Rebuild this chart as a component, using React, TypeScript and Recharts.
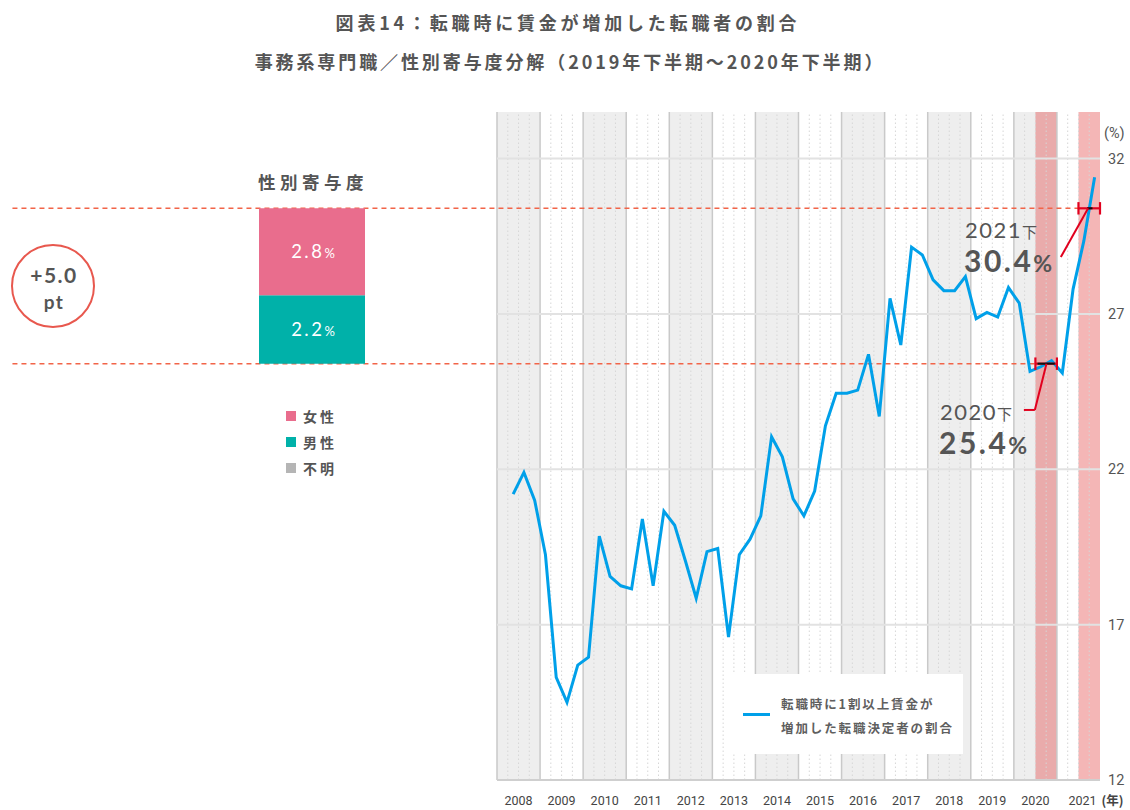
import React from 'react'
import {
  ComposedChart,
  Line,
  XAxis,
  YAxis,
  ReferenceArea,
  ReferenceLine,
  Legend,
  BarChart,
  Bar,
  LabelList
} from 'recharts'

// --- data ---
const years = [2008, 2009, 2010, 2011, 2012, 2013, 2014, 2015, 2016, 2017, 2018, 2019, 2020, 2021]

// quarterly series, 2008Q2 .. 2021Q4
const quarters = years.flatMap(y => ['Q1', 'Q2', 'Q3', 'Q4'].map(q => `${y}${q}`)).slice(1)
const ratio = [
  21.2, 21.9, 21.0, 19.25,
  15.3, 14.5, 15.7, 15.95,
  19.85, 18.55, 18.25, 18.15,
  20.4, 18.25, 20.65, 20.2,
  19.05, 17.85, 19.35, 19.45,
  16.6, 19.25, 19.75, 20.5,
  23.05, 22.4, 21.05, 20.5,
  21.3, 23.4, 24.45, 24.45,
  24.55, 25.7, 23.7, 27.5,
  26.0, 29.15, 28.9, 28.1,
  27.75, 27.75, 28.2, 26.85,
  27.05, 26.9, 27.85, 27.35,
  25.15, 25.3, 25.5, 25.1,
  27.8, 29.35, 31.4
]
const yTicks = [12, 17, 22, 27, 32]

// half-year averages that are compared
const halfLabels = ['2020下', '2021下']
const halfValues = [25.4, 30.4]

// gender contribution (pt)
const genderNames = ['女性', '男性', '不明']
const genderValues = [2.8, 2.2, 0]
const genderColors = ['#e96d8d', '#00b1a9', '#b5b5b5']

const jp = '"Noto Sans CJK JP", "Noto Sans", sans-serif'
const num = 'Lato, "Noto Sans", sans-serif'
const lineBlue = '#00a0e9'
const markRed = '#e1001e'
const dashRed = '#f26448'

const quarterIndex = (label: string) =>
  (Number(label.slice(0, 4)) - years[0]) * 4 + Number(label.slice(5)) - 1

const lineData = quarters.map((q, i) => ({ x: quarterIndex(q) + 0.5, q, value: ratio[i] }))

const barData = [
  { name: '寄与度', base: halfValues[0], male: genderValues[1], female: genderValues[0] }
]

// half-year x ranges in quarter units (下 = 2nd half)
const halfStart = halfLabels.map(h => (Number(h.slice(0, 4)) - years[0]) * 4 + 2)

function YearTick(props: any) {
  const { x, y, payload } = props
  const idx = Math.round((payload.value - 2) / 4)
  const last = idx === years.length - 1
  return (
    <g>
      <text x={last ? x + 4 : x} y={y + 17} textAnchor="middle" fill="#444" fontSize={12.5} fontFamily="Roboto, sans-serif">
        {years[idx]}
      </text>
      {last && (
        <text x={x + 23} y={y + 17} fill="#444" fontSize={12.5} fontFamily={jp} fontWeight={700}>
          (年)
        </text>
      )}
    </g>
  )
}

function LineLegend() {
  return (
    <div style={{ width: 236, height: 80, background: '#fff', position: 'relative', fontFamily: jp }}>
      <div style={{ position: 'absolute', left: 16, top: 39, width: 27, height: 3, background: lineBlue }} />
      <div style={{ position: 'absolute', left: 54, top: 18, fontSize: 12.5, fontWeight: 700, color: '#5f5f5f', letterSpacing: 1.9, lineHeight: '24px', whiteSpace: 'nowrap' }}>
        転職時に1割以上賃金が<br />増加した転職決定者の割合
      </div>
    </div>
  )
}

function GenderLegend() {
  return (
    <div style={{ fontFamily: jp, whiteSpace: 'nowrap' }}>
      {genderNames.map((n, i) => (
        <div key={n} style={{ position: 'relative', height: 26, lineHeight: '26px' }}>
          <span style={{ position: 'absolute', left: 0, top: 8, width: 10, height: 10, background: genderColors[i] }} />
          <span style={{ position: 'absolute', left: 17, top: 0, fontSize: 14, fontWeight: 700, color: '#555', letterSpacing: 3 }}>{n}</span>
        </div>
      ))}
    </div>
  )
}

function PctLabel(props: any) {
  const { x, y, width, height, value } = props
  return (
    <text x={x + width / 2 + 1} y={y + height / 2 + 6.5} textAnchor="middle" fill="#fff" fontFamily={num} fontSize={18.5} letterSpacing={2.5}>
      {value.toFixed(1)}
      <tspan fontSize={13} letterSpacing={0}>%</tspan>
    </text>
  )
}

function App() {
  const yearLines = years.map((_, i) => i * 4)
  const quarterLines = years.flatMap((_, i) => [i * 4 + 1, i * 4 + 2, i * 4 + 3])
  const yearCenters = years.map((_, i) => i * 4 + 2)

  return (
    <div style={{ position: 'absolute', left: 0, top: 0, width: 1130, height: 810, background: '#fff', overflow: 'hidden' }}>
      {/* main line chart */}
      <div style={{ position: 'absolute', left: 0, top: 0 }}>
        <ComposedChart width={1130} height={810} data={lineData} margin={{ top: 112, right: 0, bottom: 0, left: 497 }}>
          <XAxis
            type="number"
            dataKey="x"
            domain={[0, 56]}
            ticks={yearCenters}
            tick={<YearTick />}
            tickLine={false}
            axisLine={{ stroke: '#cfcfcf', strokeWidth: 2 }}
            height={30}
            interval={0}
          />
          <YAxis
            orientation="right"
            domain={[12, 33.5]}
            ticks={yTicks}
            width={30}
            tickLine={false}
            axisLine={false}
            tick={{ fill: '#555', fontSize: 14.5, fontFamily: 'Roboto, sans-serif' }}
            allowDataOverflow
          />
          {years.map((y, i) =>
            i % 2 === 0 ? (
              <ReferenceArea key={'b' + y} x1={i * 4} x2={i * 4 + 4} y1={12} y2={33.5} fill="#eeeeee" fillOpacity={1} stroke="none" />
            ) : null
          )}
          {halfStart.map(s => (
            <ReferenceArea key={'h' + s} x1={s} x2={s + 2} y1={12} y2={33.5} fill="#e03434" fillOpacity={0.36} stroke="none" />
          ))}
          {quarterLines.map(q => (
            <ReferenceLine key={'q' + q} x={q} stroke="#d6d6d6" strokeDasharray="1.5 2.5" strokeWidth={1} />
          ))}
          {yearLines.map(x => (
            <ReferenceLine key={'y' + x} x={x} stroke="#c9c9c9" strokeWidth={1.5} />
          ))}
          {yTicks.slice(1).map(t => (
            <ReferenceLine key={'g' + t} y={t} stroke="#e2e2e2" strokeWidth={2} />
          ))}
          {halfValues.map((v, i) => (
            <ReferenceLine
              key={'d' + i}
              segment={[{ x: -45, y: v }, { x: halfStart[i], y: v }]}
              stroke={dashRed}
              strokeDasharray="5 4"
              strokeWidth={1.5}
              ifOverflow="visible"
            />
          ))}
          <Line
            type="linear"
            dataKey="value"
            stroke={lineBlue}
            strokeWidth={3}
            dot={false}
            isAnimationActive={false}
          />
          {halfValues.map((v, i) => (
            <ReferenceLine key={'m' + i} segment={[{ x: halfStart[i], y: v }, { x: halfStart[i] + 2, y: v }]} stroke={markRed} strokeWidth={2.2} />
          ))}
          {halfValues.map((v, i) => (
            <ReferenceLine key={'cl' + i} segment={[{ x: halfStart[i], y: v - 0.2 }, { x: halfStart[i], y: v + 0.2 }]} stroke={markRed} strokeWidth={2.2} />
          ))}
          {halfValues.map((v, i) => (
            <ReferenceLine key={'cr' + i} segment={[{ x: halfStart[i] + 2, y: v - 0.2 }, { x: halfStart[i] + 2, y: v + 0.2 }]} stroke={markRed} strokeWidth={2.2} />
          ))}
          <ReferenceLine segment={[{ x: halfStart[0] + 0.2, y: halfValues[0] }, { x: halfStart[0] + 1.8, y: halfValues[0] }]} stroke="#111" strokeWidth={2} />
          <ReferenceLine segment={[{ x: halfStart[1] + 0.8, y: halfValues[1] }, { x: halfStart[1] + 1.3, y: halfValues[1] }]} stroke="#111" strokeWidth={2} />
          {/* leader lines to the labels */}
          <ReferenceLine segment={[{ x: 52.36, y: 28.83 }, { x: 54.9, y: halfValues[1] }]} stroke={markRed} strokeWidth={2} />
          <ReferenceLine segment={[{ x: 48.93, y: 23.91 }, { x: 49.95, y: 23.91 }]} stroke={markRed} strokeWidth={2} />
          <ReferenceLine segment={[{ x: 49.95, y: 23.91 }, { x: 51.03, y: halfValues[0] }]} stroke={markRed} strokeWidth={2} />
          <Legend
            layout="vertical"
            align="center"
            verticalAlign="middle"
            content={<LineLegend />}
            wrapperStyle={{ left: 727, top: 674, width: 236, height: 80 }}
          />
        </ComposedChart>
      </div>

      {/* stacked contribution bar */}
      <div style={{ position: 'absolute', left: 259, top: 0 }}>
        <BarChart width={106} height={810} data={barData} margin={{ top: 112, right: 0, bottom: 30, left: 0 }} barCategoryGap={0}>
          <XAxis dataKey="name" hide />
          <YAxis hide domain={[12, 33.5]} allowDataOverflow />
          <Bar dataKey="base" stackId="a" fill="transparent" isAnimationActive={false} />
          <Bar dataKey="male" stackId="a" fill={genderColors[1]} isAnimationActive={false}>
            <LabelList dataKey="male" content={<PctLabel />} />
          </Bar>
          <Bar dataKey="female" stackId="a" fill={genderColors[0]} isAnimationActive={false}>
            <LabelList dataKey="female" content={<PctLabel />} />
          </Bar>
          <Legend
            layout="vertical"
            align="center"
            verticalAlign="middle"
            content={<GenderLegend />}
            wrapperStyle={{ left: 27, top: 403, width: 80 }}
          />
        </BarChart>
      </div>

      {/* titles and annotations */}
      <svg width={1130} height={810} style={{ position: 'absolute', left: 0, top: 0, pointerEvents: 'none' }}>
        <text x={568} y={29.5} textAnchor="middle" fontFamily={jp} fontWeight={700} fontSize={18} fill="#555" letterSpacing={3.8}>
          図表14：転職時に賃金が増加した転職者の割合
        </text>
        <text x={570} y={68.5} textAnchor="middle" fontFamily={jp} fontWeight={700} fontSize={18} fill="#555" letterSpacing={2.9}>
          事務系専門職／性別寄与度分解（2019年下半期～2020年下半期）
        </text>
        <text x={313} y={188.5} textAnchor="middle" fontFamily={jp} fontWeight={700} fontSize={17.5} fill="#555" letterSpacing={4.5}>
          性別寄与度
        </text>
        <circle cx={53} cy={286} r={41} fill="none" stroke="#e8584e" strokeWidth={2} />
        <text x={54} y={283} textAnchor="middle" fontFamily={num} fontWeight={700} fontSize={21} fill="#555" letterSpacing={1.5}>+5.0</text>
        <text x={54} y={309} textAnchor="middle" fontFamily={num} fontWeight={700} fontSize={19} fill="#555" letterSpacing={1.5}>pt</text>
        <text x={1104} y={138} fontFamily="Roboto, sans-serif" fontSize={14.5} fill="#555">(%)</text>

        <text x={965} y={238} fontFamily={num} fontSize={22} fill="#555" letterSpacing={1.5}>
          {halfLabels[1].slice(0, 4)}
          <tspan fontFamily={jp} fontSize={15}>{halfLabels[1].slice(4)}</tspan>
        </text>
        <text x={964} y={272} fontFamily={num} fontWeight={700} fontSize={30} fill="#555" letterSpacing={2.5}>
          {halfValues[1].toFixed(1)}
          <tspan fontSize={23} letterSpacing={0}>%</tspan>
        </text>
        <text x={940} y={420} fontFamily={num} fontSize={22} fill="#555" letterSpacing={1.5}>
          {halfLabels[0].slice(0, 4)}
          <tspan fontFamily={jp} fontSize={15}>{halfLabels[0].slice(4)}</tspan>
        </text>
        <text x={939} y={454} fontFamily={num} fontWeight={700} fontSize={30} fill="#555" letterSpacing={2.5}>
          {halfValues[0].toFixed(1)}
          <tspan fontSize={23} letterSpacing={0}>%</tspan>
        </text>
      </svg>
    </div>
  )
}

export default App
